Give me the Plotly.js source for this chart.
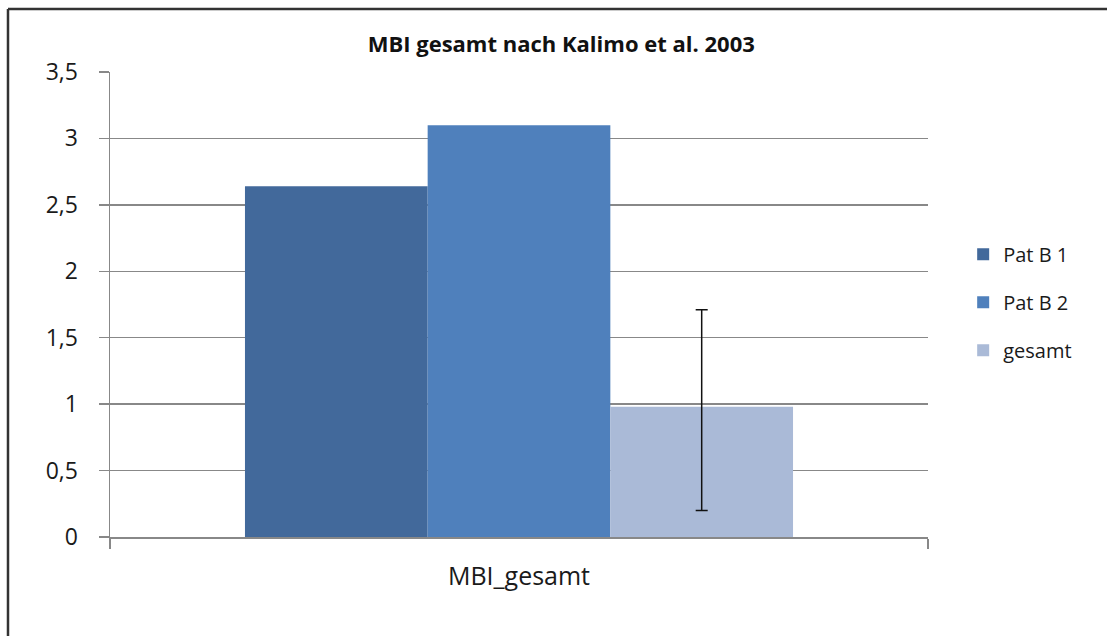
<!DOCTYPE html>
<html>
<head>
<meta charset="utf-8">
<script src="https://cdn.plot.ly/plotly-3.0.1.min.js"></script>
<style>
  html, body { margin: 0; padding: 0; background: #fff; }
  #chart { width: 1107px; height: 636px; }
</style>
</head>
<body>
<div id="chart"></div>
<script>
const categories = ['MBI_gesamt'];
const seriesNames = ['Pat B 1', 'Pat B 2', 'gesamt'];
const patB1 = [2.64];
const patB2 = [3.10];
const gesamt = [0.98];
const gesamtErrPlus = [0.73];
const gesamtErrMinus = [0.78];
const colors = ['#42699B', '#4F80BC', '#AABAD7'];

const traces = [
  { type: 'bar', name: seriesNames[0], x: categories, y: patB1, marker: { color: colors[0] }, legendgroup: 'a' },
  { type: 'bar', name: seriesNames[1], x: categories, y: patB2, marker: { color: colors[1] }, legendgroup: 'b' },
  { type: 'bar', name: seriesNames[2], x: categories, y: gesamt, marker: { color: colors[2] }, legendgroup: 'c',
    error_y: { type: 'data', symmetric: false, array: gesamtErrPlus, arrayminus: gesamtErrMinus,
               color: '#111', thickness: 1.5, width: 6 } }
];

const layout = {
  width: 1107, height: 636,
  margin: { l: 110, r: 179, t: 72, b: 99 },
  paper_bgcolor: '#fff', plot_bgcolor: '#fff',
  separators: ',.',
  font: { family: 'Open Sans, sans-serif', color: '#1a1a1a' },
  title: { text: '<b>MBI gesamt nach Kalimo et al. 2003</b>', font: { size: 22, color: '#111' },
           xref: 'container', x: 0.507, xanchor: 'center', yref: 'container', y: 0.93, yanchor: 'middle' },
  barmode: 'group', bargap: 0.33, bargroupgap: 0,
  showlegend: true,
  legend: { x: 1.043, xanchor: 'left', y: 0.505, yanchor: 'middle', traceorder: 'grouped',
            tracegroupgap: 19, font: { size: 20, color: '#1a1a1a' }, bgcolor: 'rgba(0,0,0,0)' },
  xaxis: { type: 'category', showline: true, linecolor: '#888', linewidth: 1.5,
           ticks: 'outside', tickson: 'boundaries', ticklen: 10, tickcolor: '#888', tickwidth: 1.5,
           tickfont: { size: 25, color: '#1a1a1a' }, ticklabelstandoff: 16, showgrid: false, fixedrange: true },
  yaxis: { range: [0, 3.5], dtick: 0.5, tick0: 0, showline: true, linecolor: '#888', linewidth: 1.5,
           ticks: 'outside', ticklen: 10, tickcolor: '#888', tickwidth: 1.5,
           showgrid: true, gridcolor: '#888', gridwidth: 1.5, zeroline: false,
           tickfont: { size: 23, color: '#1a1a1a' }, ticklabelstandoff: 16, fixedrange: true },
  shapes: [
    { type: 'line', xref: 'paper', yref: 'paper', x0: -0.1247, x1: -0.1247, y0: -0.3, y1: 1.1355,
      line: { color: '#333', width: 2.5 } },
    { type: 'line', xref: 'paper', yref: 'paper', x0: -0.1247, x1: 1.3, y0: 1.1355, y1: 1.1355,
      line: { color: '#333', width: 2.5 } }
  ]
};

Plotly.newPlot('chart', traces, layout, { displayModeBar: false, staticPlot: true });
</script>
</body>
</html>
